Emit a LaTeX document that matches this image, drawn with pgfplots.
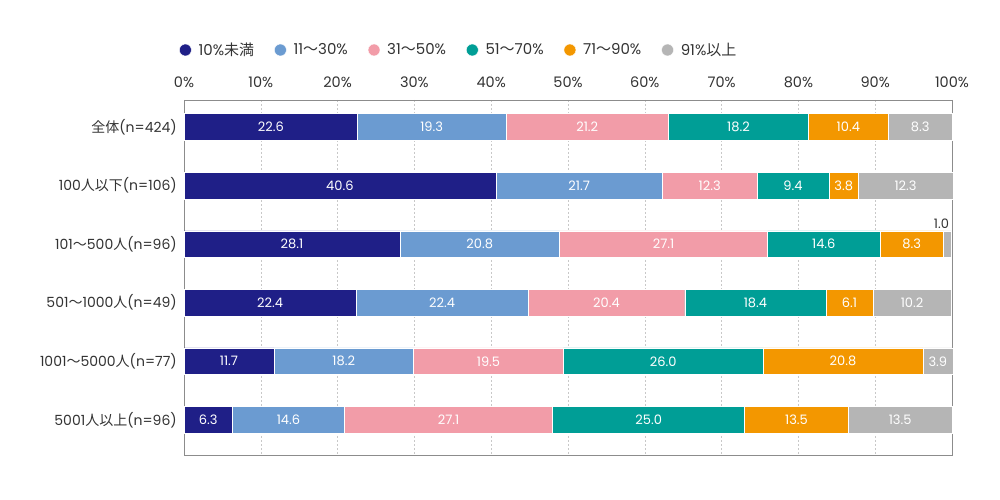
\documentclass[border=0pt]{standalone}
\usepackage{pgfplots}
\pgfplotsset{compat=1.18}
\usepackage{pgfplotstable}
\usepackage{fontspec}
\setmainfont{Poppins}
\newfontfamily\jp{Noto Sans CJK JP}
\definecolor{c1}{HTML}{1F1F87}
\definecolor{c2}{HTML}{6B9BD1}
\definecolor{c3}{HTML}{F29CA8}
\definecolor{c4}{HTML}{009E96}
\definecolor{c5}{HTML}{F39700}
\definecolor{c6}{HTML}{B5B5B5}
\definecolor{txt}{HTML}{333333}
\definecolor{gridc}{HTML}{C8C8C8}
\pgfplotstableread{
y a b c d e f fdx fdy fc
0 22.6 19.3 21.2 18.2 10.4 8.3 0 0 0
1 40.6 21.7 12.3 9.4 3.8 12.3 0 0 0
2 28.1 20.8 27.1 14.6 8.3 1.0 -6 20 100
3 22.4 22.4 20.4 18.4 6.1 10.2 0 0 0
4 11.7 18.2 19.5 26.0 20.8 3.9 0 0 0
5 6.3 14.6 27.1 25.0 13.5 13.5 0 0 0
}\data
% centre of each segment, from the values above
\pgfplotstablecreatecol[create col/expr={\thisrow{a}/2}]{ma}\data
\pgfplotstablecreatecol[create col/expr={\thisrow{a}+\thisrow{b}/2}]{mb}\data
\pgfplotstablecreatecol[create col/expr={\thisrow{a}+\thisrow{b}+\thisrow{c}/2}]{mc}\data
\pgfplotstablecreatecol[create col/expr={\thisrow{a}+\thisrow{b}+\thisrow{c}+\thisrow{d}/2}]{md}\data
\pgfplotstablecreatecol[create col/expr={\thisrow{a}+\thisrow{b}+\thisrow{c}+\thisrow{d}+\thisrow{e}/2}]{me}\data
\pgfplotstablecreatecol[create col/expr={\thisrow{a}+\thisrow{b}+\thisrow{c}+\thisrow{d}+\thisrow{e}+\thisrow{f}/2}]{mf}\data
\pgfplotsset{
  circ legend/.style={legend image code/.code={\fill[##1] (0pt,0pt) circle (6pt);}},
  seg/.style={fill=#1, draw=white, line width=0.4pt, circ legend},
  geom/.style={at={(184pt,45pt)}, anchor=south west,
    scale only axis, width=768pt, height=355pt,
    xmin=0, xmax=100, ymin=-0.46, ymax=5.6, y dir=reverse, clip=false},
  lab/.style={only marks, mark=*, mark size=0pt, draw=none, fill=none,
    point meta=\thisrow{#1},
    nodes near coords={\pgfmathprintnumber[fixed,fixed zerofill,precision=1]{\pgfplotspointmeta}},
    nodes near coords style={anchor=center, text=white, inner sep=0pt,
      font=\fontsize{13}{15}\selectfont}},
}
\begin{document}
\begin{tikzpicture}
\useasboundingbox (0,0) rectangle (1000pt,500pt);
\begin{axis}[
  geom,
  xbar stacked, bar width=0.455,
  /pgf/number format/assume math mode=true,
  xtick={0,10,...,100},
  xticklabel={\pgfmathprintnumber{\tick}\%},
  xticklabel pos=upper,
  ytick={0,...,5},
  yticklabels={{\jp 全体}(n=424),100{\jp 人以下}(n=106),101{\jp ～}500{\jp 人}(n=96),501{\jp ～}1000{\jp 人}(n=49),1001{\jp ～}5000{\jp 人}(n=77),5001{\jp 人以上}(n=96)},
  major tick length=0pt,
  tick label style={text=txt, inner sep=0pt},
  xticklabel style={yshift=12pt, font=\fontsize{14.5}{16}\selectfont},
  yticklabel style={xshift=-7pt, font=\fontsize{14}{16}\selectfont},
  xmajorgrids, grid style={gridc, dash pattern=on 2pt off 2pt, line width=0.6pt},
  axis line style={draw=gray!90, line width=0.8pt},
  legend columns=6,
  legend style={draw=none, fill=none, inner sep=0pt, at={(axis description cs:0,1)}, anchor=west,
    xshift=-5pt, yshift=50pt, font=\fontsize{15}{17}\selectfont, text=txt,
    nodes={inner sep=0pt},
    /tikz/every even column/.append style={column sep=20pt},
    /tikz/every odd column/.append style={column sep=7pt}},
]
\addplot[seg=c1] table[x=a,y=y]{\data};
\addlegendentry{10\%{\jp 未満}}
\addplot[seg=c2] table[x=b,y=y]{\data};
\addlegendentry{11{\jp ～}30\%}
\addplot[seg=c3] table[x=c,y=y]{\data};
\addlegendentry{31{\jp ～}50\%}
\addplot[seg=c4] table[x=d,y=y]{\data};
\addlegendentry{51{\jp ～}70\%}
\addplot[seg=c5] table[x=e,y=y]{\data};
\addlegendentry{71{\jp ～}90\%}
\addplot[seg=c6] table[x=f,y=y]{\data};
\addlegendentry{91\%{\jp 以上}}
\end{axis}
\begin{axis}[geom, hide axis, /pgf/number format/assume math mode=true]
\addplot[lab=a] table[x=ma,y=y]{\data};
\addplot[lab=b] table[x=mb,y=y]{\data};
\addplot[lab=c] table[x=mc,y=y]{\data};
\addplot[lab=d] table[x=md,y=y]{\data};
\addplot[lab=e] table[x=me,y=y]{\data};
\addplot[lab=f,
  visualization depends on={\thisrow{fdx}\as\fdx},
  visualization depends on={\thisrow{fdy}\as\fdy},
  visualization depends on={\thisrow{fc}\as\fcv},
  nodes near coords style={xshift={\fdx*1pt}, yshift={\fdy*1pt}, text={txt!\fcv!white}}] table[x=mf,y=y]{\data};
\end{axis}
\end{tikzpicture}
\end{document}
